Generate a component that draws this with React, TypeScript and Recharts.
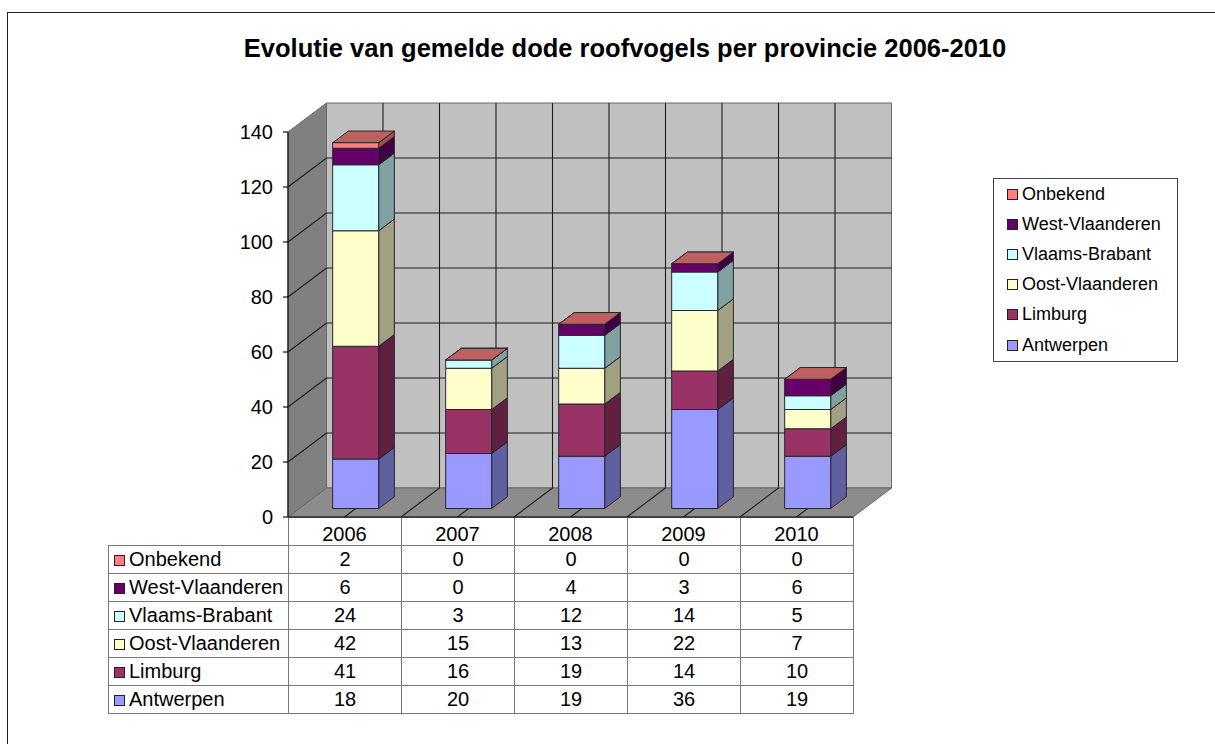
import { BarChart, Bar, XAxis, YAxis, Legend, usePlotArea } from 'recharts';

const years = ['2006', '2007', '2008', '2009', '2010'];
const antwerpen = [18, 20, 19, 36, 19];
const limburg = [41, 16, 19, 14, 10];
const oostVlaanderen = [42, 15, 13, 22, 7];
const vlaamsBrabant = [24, 3, 12, 14, 5];
const westVlaanderen = [6, 0, 4, 3, 6];
const onbekend = [2, 0, 0, 0, 0];
const yTicks = [0, 20, 40, 60, 80, 100, 120, 140];

const series = [
  { name: 'Antwerpen', values: antwerpen, color: '#9999ff' },
  { name: 'Limburg', values: limburg, color: '#993366' },
  { name: 'Oost-Vlaanderen', values: oostVlaanderen, color: '#ffffcc' },
  { name: 'Vlaams-Brabant', values: vlaamsBrabant, color: '#ccffff' },
  { name: 'West-Vlaanderen', values: westVlaanderen, color: '#660066' },
  { name: 'Onbekend', values: onbekend, color: '#ff8080' },
];
const tableRows = [...series].reverse();

const chartData = years.map((year, i) => {
  const row: Record<string, string | number> = { year };
  series.forEach((s) => {
    row[s.name] = s.values[i];
  });
  return row;
});

const FONT = '"Liberation Sans", Arial, sans-serif';
const DEPTH_X = 38.5;
const DEPTH_Y = 29;
const BAR_DX = 11;
const BAR_DY = 8.5;
const BAR_DEPTH_X = 15.7;
const BAR_DEPTH_Y = 11.7;

function shade(hex: string, k: number) {
  const n = parseInt(hex.slice(1), 16);
  const r = Math.round(((n >> 16) & 255) * k);
  const g = Math.round(((n >> 8) & 255) * k);
  const b = Math.round((n & 255) * k);
  return `rgb(${r},${g},${b})`;
}

function Bar3D(props: any) {
  const { x, y, width, height, fill } = props;
  const l = x + BAR_DX;
  const r = l + width;
  const t = y - BAR_DY;
  const b = t + height;
  const stroke = '#26262e';
  return (
    <g stroke={stroke} strokeWidth={1} strokeLinejoin="round">
      <polygon
        points={`${r},${t} ${r + BAR_DEPTH_X},${t - BAR_DEPTH_Y} ${r + BAR_DEPTH_X},${b - BAR_DEPTH_Y} ${r},${b}`}
        fill={shade(fill, 0.63)}
      />
      <polygon
        points={`${l},${t} ${l + BAR_DEPTH_X},${t - BAR_DEPTH_Y} ${r + BAR_DEPTH_X},${t - BAR_DEPTH_Y} ${r},${t}`}
        fill={shade(fill, 0.75)}
      />
      <rect x={l} y={t} width={width} height={height} fill={fill} />
    </g>
  );
}

function Walls() {
  const area = usePlotArea();
  if (!area) return null;
  const { x, y, width, height } = area;
  const bottom = y + height;
  const valueY = (v: number) => bottom - (v / 140) * height;
  const halfBand = width / years.length / 2;
  const steps = Array.from({ length: years.length * 2 + 1 }, (_, i) => x + i * halfBand);
  const grid = '#1c1c1c';
  return (
    <g>
      <polygon
        points={`${x + DEPTH_X},${y - DEPTH_Y} ${x + width + DEPTH_X},${y - DEPTH_Y} ${x + width + DEPTH_X},${bottom - DEPTH_Y} ${x + DEPTH_X},${bottom - DEPTH_Y}`}
        fill="#c0c0c0"
        stroke="#666"
      />
      <polygon
        points={`${x},${y} ${x + DEPTH_X},${y - DEPTH_Y} ${x + DEPTH_X},${bottom - DEPTH_Y} ${x},${bottom}`}
        fill="#808080"
        stroke="#666"
      />
      <polygon
        points={`${x},${bottom} ${x + DEPTH_X},${bottom - DEPTH_Y} ${x + width + DEPTH_X},${bottom - DEPTH_Y} ${x + width},${bottom}`}
        fill="#8c8c8c"
        stroke="#666"
      />
      {yTicks.slice(1, -1).map((v) => (
        <polyline
          key={v}
          points={`${x},${valueY(v)} ${x + DEPTH_X},${valueY(v) - DEPTH_Y} ${x + width + DEPTH_X},${valueY(v) - DEPTH_Y}`}
          fill="none"
          stroke={grid}
          strokeWidth={1.1}
        />
      ))}
      {steps.slice(1, -1).map((sx) => (
        <polyline
          key={sx}
          points={`${sx},${bottom} ${sx + DEPTH_X},${bottom - DEPTH_Y} ${sx + DEPTH_X},${y - DEPTH_Y}`}
          fill="none"
          stroke={grid}
          strokeWidth={1.1}
        />
      ))}
    </g>
  );
}

function Swatch({ color, gap }: { color: string; gap: number }) {
  return (
    <span
      style={{
        display: 'inline-block',
        width: 9,
        height: 9,
        background: color,
        border: '1.5px solid #222',
        marginRight: gap,
        flex: 'none',
      }}
    />
  );
}

function LegendBox({ payload }: any) {
  const items = [...(payload || [])].reverse();
  return (
    <div
      style={{
        boxSizing: 'border-box',
        width: 185,
        height: 184,
        border: '1px solid #444',
        background: '#fff',
        padding: '0 0 0 13px',
      }}
    >
      {items.map((item: any) => (
        <div
          key={item.value}
          style={{
            display: 'flex',
            alignItems: 'center',
            height: 30.2,
            fontFamily: FONT,
            fontSize: 18,
            color: '#000',
            whiteSpace: 'nowrap',
          }}
        >
          <Swatch color={item.color} gap={4} />
          {item.value}
        </div>
      ))}
    </div>
  );
}

const cell: React.CSSProperties = {
  boxSizing: 'border-box',
  border: '1px solid #777',
  padding: '0 0 2px 0',
  height: 28,
  textAlign: 'center',
  fontFamily: FONT,
  fontSize: 20,
  lineHeight: '24px',
  color: '#000',
};

function DataTable() {
  return (
    <table
      style={{
        position: 'absolute',
        left: 108,
        top: 517,
        borderCollapse: 'collapse',
        tableLayout: 'fixed',
        width: 745,
      }}
    >
      <colgroup>
        <col style={{ width: 180 }} />
        {years.map((y) => (
          <col key={y} style={{ width: 113 }} />
        ))}
      </colgroup>
      <tbody>
        <tr>
          <td style={{ ...cell, border: 'none', borderBottom: '1px solid #777' }} />
          {years.map((y) => (
            <td key={y} style={cell} />
          ))}
        </tr>
        {tableRows.map((s) => (
          <tr key={s.name}>
            <td style={{ ...cell, textAlign: 'left', paddingLeft: 5, whiteSpace: 'nowrap' }}>
              <Swatch color={s.color} gap={4} />
              {s.name}
            </td>
            {s.values.map((v, i) => (
              <td key={years[i]} style={cell}>
                {v}
              </td>
            ))}
          </tr>
        ))}
      </tbody>
    </table>
  );
}

export default function App() {
  return (
    <div style={{ position: 'absolute', left: 0, top: 0, width: 1215, height: 744, overflow: 'hidden', background: '#fff' }}>
      <div
        style={{
          position: 'absolute',
          left: 7,
          top: 12,
          width: 1300,
          height: 800,
          border: '1.5px solid #222',
          boxSizing: 'border-box',
        }}
      />
      <DataTable />
      <div style={{ position: 'absolute', left: 0, top: 0 }}>
        <BarChart
          width={1215}
          height={744}
          data={chartData}
          barCategoryGap="29.8%"
          margin={{ top: 132, left: 228, right: 362, bottom: 197 }}
        >
          <Walls />
          <text x={625} y={57} textAnchor="middle" fontFamily={FONT} fontWeight="bold" fontSize={25.5} fill="#000">
            Evolutie van gemelde dode roofvogels per provincie 2006-2010
          </text>
          <XAxis
            dataKey="year"
            axisLine={{ stroke: '#111', strokeWidth: 1.2 }}
            tickLine={false}
            height={30}
            tick={{ fill: '#000', fontSize: 20, fontFamily: FONT }}
            tickMargin={4}
          />
          <YAxis
            domain={[0, 140]}
            ticks={yTicks}
            width={60}
            axisLine={{ stroke: '#111', strokeWidth: 1.2 }}
            tickLine={{ stroke: '#111', strokeWidth: 1.2 }}
            tickSize={5}
            tickMargin={10}
            tick={{ fill: '#000', fontSize: 20, fontFamily: FONT }}
          />
          <Legend
            layout="vertical"
            align="center"
            verticalAlign="middle"
            itemSorter={null}
            content={<LegendBox />}
            wrapperStyle={{ left: 993, top: 178, width: 185, height: 184 }}
          />
          {series.map((s) => (
            <Bar
              key={s.name}
              dataKey={s.name}
              name={s.name}
              stackId="a"
              fill={s.color}
              shape={<Bar3D />}
              isAnimationActive={false}
            />
          ))}
        </BarChart>
      </div>
    </div>
  );
}
